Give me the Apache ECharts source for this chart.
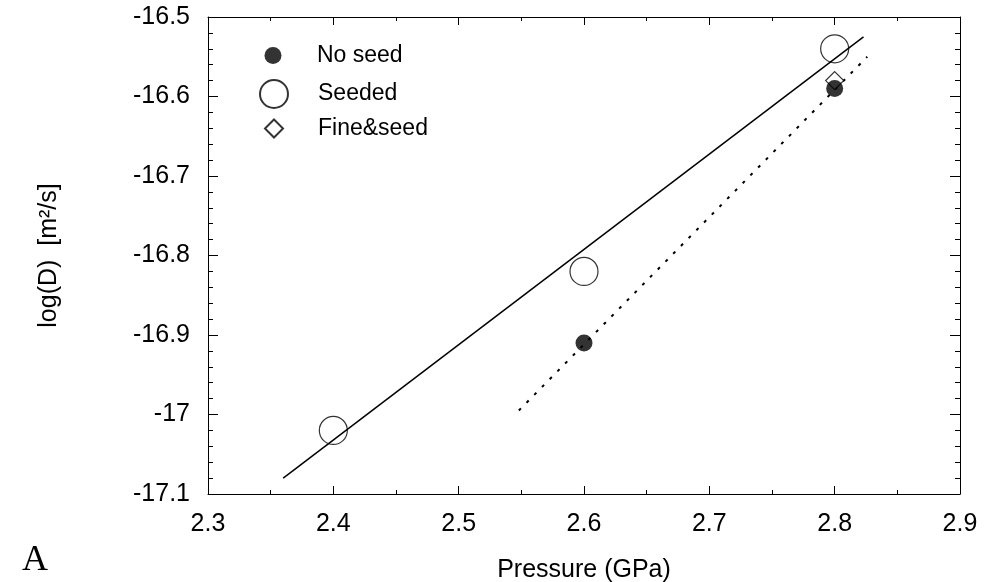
<!DOCTYPE html>
<html>
<head>
<meta charset="utf-8">
<script src="https://cdn.jsdelivr.net/npm/echarts@6/dist/echarts.min.js"></script>
<style>
    html, body { margin: 0; padding: 0; background: #fff; }
    #chart { width: 1000px; height: 582px; }
</style>
</head>
<body>
<div id="chart"></div>
<script>
// data
var noSeed = [[2.6, -16.91], [2.8, -16.59]];
var seeded = [[2.4, -17.02], [2.6, -16.82], [2.8, -16.54]];
var fineSeed = [[2.8, -16.58]];
var fitSeeded = [[2.36, -17.08], [2.823, -16.525]];   // solid line
var fitNoSeed = [[2.548, -16.995], [2.826, -16.55]];  // dotted line

var xMin = 2.3, xMax = 2.9, xStep = 0.1;
var yMin = -17.1, yMax = -16.5, yStep = 0.1;

var font = "'Liberation Sans', Arial, sans-serif";
var black = "#000";

var chart = echarts.init(document.getElementById("chart"));

// axis helper, the frame has ticks on all four sides
function makeAxis(pos, isX, show) {
    return {
        type: "value",
        position: pos,
        min: isX ? xMin : yMin,
        max: isX ? xMax : yMax,
        interval: isX ? xStep : yStep,
        axisLine: { show: true, onZero: false, lineStyle: { color: black, width: 1 } },
        axisTick: { show: true, inside: true, length: isX ? 8 : 10, lineStyle: { color: black } },
        minorTick: { show: true, splitNumber: isX ? 2 : 5, length: isX ? 4 : 5, lineStyle: { color: black } },
        splitLine: { show: false },
        axisLabel: {
            show: show,
            color: black,
            fontFamily: font,
            fontSize: 25,
            margin: isX ? 18 : 18
        }
    };
}

function legendBox(name, size, top) {
    return {
        data: [name],
        left: 273 - size / 2,
        top: top,
        padding: 0,
        itemWidth: size,
        itemHeight: size,
        selectedMode: false,
        textStyle: {
            color: black,
            fontFamily: font,
            fontSize: 23,
            lineHeight: 22,
            padding: [0, 0, 0, 39 - size / 2]
        }
    };
}

var xBottom = makeAxis("bottom", true, true);
xBottom.name = "Pressure (GPa)";
xBottom.nameLocation = "middle";
xBottom.nameGap = 64;
xBottom.nameTextStyle = { color: black, fontFamily: font, fontSize: 25 };

var yLeft = makeAxis("left", false, true);
yLeft.name = "log(D)  [m\u00b2/s]";
yLeft.nameLocation = "middle";
yLeft.nameGap = 146;
yLeft.nameTextStyle = { color: black, fontFamily: font, fontSize: 25 };

var option = {
    backgroundColor: "#fff",
    animation: false,
    grid: { left: 208, right: 40, top: 17, bottom: 88, containLabel: false, outerBoundsMode: "none" },
    xAxis: [xBottom, makeAxis("top", true, false)],
    yAxis: [yLeft, makeAxis("right", false, false)],
    legend: [
        legendBox("No seed", 17, 44),
        legendBox("Seeded", 28, 79),
        legendBox("Fine&seed", 18, 117)
    ],
    graphic: [{
        type: "text",
        left: 22,
        top: 543,
        style: { text: "A", fill: black, font: "36px 'Liberation Serif', 'Times New Roman', serif" }
    }],
    series: [
        {
            type: "line",
            data: fitSeeded,
            showSymbol: false,
            lineStyle: { color: black, width: 1.5 },
            z: 1
        },
        {
            type: "line",
            data: fitNoSeed,
            showSymbol: false,
            lineStyle: { color: black, width: 2, type: [3, 8] },
            z: 1
        },
        {
            name: "Fine&seed",
            type: "scatter",
            data: fineSeed,
            symbol: "diamond",
            symbolSize: 18,
            itemStyle: { color: "#fff", borderColor: black, borderWidth: 1.2 },
            z: 2
        },
        {
            name: "No seed",
            type: "scatter",
            data: noSeed,
            symbol: "circle",
            symbolSize: 17,
            itemStyle: { color: black },
            z: 3
        },
        {
            name: "Seeded",
            type: "scatter",
            data: seeded,
            symbol: "circle",
            symbolSize: 28,
            itemStyle: { color: "rgba(0,0,0,0)", borderColor: black, borderWidth: 1.2 },
            z: 4
        }
    ]
};

chart.setOption(option);
</script>
</body>
</html>
